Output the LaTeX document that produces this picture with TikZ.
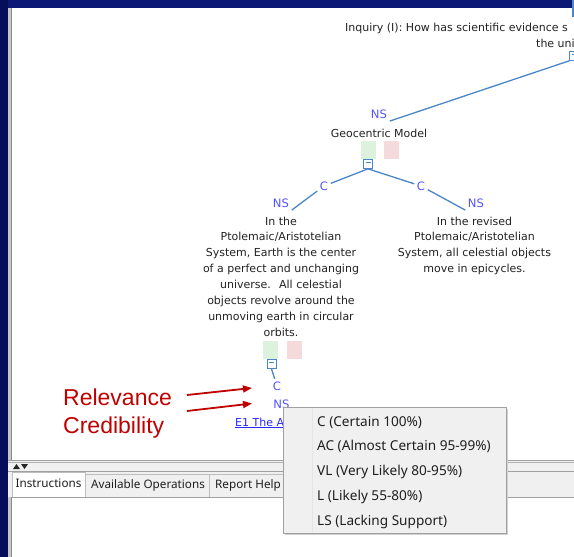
\documentclass[tikz,border=0pt]{standalone}
\usepackage{fontspec}
\setmainfont{DejaVu Sans}
\newfontfamily\treefont{DejaVu Sans}
\newfontfamily\annfont{Liberation Sans}
\newfontfamily\uifont{Noto Sans}
\usetikzlibrary{arrows.meta}
\definecolor{navy}{RGB}{12,24,118}
\definecolor{navydark}{RGB}{6,14,90}
\definecolor{treeline}{RGB}{74,134,200}
\definecolor{lblblue}{RGB}{85,85,255}
\definecolor{linkblue}{RGB}{40,40,255}
\definecolor{greenbox}{RGB}{220,242,220}
\definecolor{redbox}{RGB}{244,218,218}
\definecolor{annred}{RGB}{192,0,0}
\definecolor{uigrey}{RGB}{240,240,240}
\definecolor{bordergrey}{RGB}{160,160,160}
\definecolor{txt}{RGB}{35,35,35}
\tikzset{
  treetxt/.style={font=\treefont\fontsize{11}{15.9}\selectfont, text=txt, inner sep=0pt, align=center},
  lbl/.style={font=\treefont\fontsize{11.6}{13}\selectfont, text=lblblue, inner sep=2.5pt},
  conn/.style={draw=treeline, line width=1.3pt},
  minusbox/.style={draw=treeline, fill=white, minimum size=9pt, inner sep=0pt, line width=0.7pt,
    path picture={\draw[treeline, line width=0.7pt] ([xshift=-2.5pt,yshift=1.5pt]path picture bounding box.center) -- ([xshift=2.5pt,yshift=1.5pt]path picture bounding box.center);}},
  swg/.style={fill=greenbox, minimum width=15pt, minimum height=18pt, inner sep=0pt},
  swr/.style={fill=redbox, minimum width=15pt, minimum height=18pt, inner sep=0pt},
  ann/.style={font=\annfont\fontsize{23}{26}\selectfont, text=annred, inner sep=0pt, anchor=base west},
  annarrow/.style={draw=annred, line width=1.8pt, -{Triangle[length=9pt,width=7pt]}},
  menuitem/.style={font=\uifont\fontsize{13.6}{15}\selectfont, text=black!88, inner sep=0pt, anchor=base west},
  tabtxt/.style={font=\uifont\fontsize{11.7}{14}\selectfont, text=black!88, inner sep=0pt, anchor=base},
  tabbox/.style={draw=bordergrey!70, line width=0.6pt}
}
\begin{document}
\begin{tikzpicture}[x=1pt,y=-1pt]
\useasboundingbox (0,0) rectangle (574,557);
\clip (0,0) rectangle (574,557);
% background
\fill[navy] (0,0) rectangle (574,557);
\fill[navydark] (0,0) rectangle (8,557);
% top panel
\fill[white] (12,8) rectangle (574,460);
\fill[black!22] (8,8) rectangle (11,460);
\draw[black!45, line width=0.6pt] (11.3,8) -- (11.3,460);
\draw[bordergrey, line width=0.8pt] (8,460) -- (574,460);
% splitter
\fill[uigrey] (8,460.5) rectangle (574,471);
\draw[black!30, line width=0.5pt] (8,462.5) -- (574,462.5);
\fill[black!85] (13,469) -- (16.5,464) -- (20,469) -- cycle;
\fill[black!85] (21,464) -- (28,464) -- (24.5,469) -- cycle;
% tab strip
\fill[uigrey] (8,471) rectangle (574,497);
\draw[bordergrey, line width=0.8pt] (8,471) -- (574,471);
\fill[white] (12,472) rectangle (85,497);
\draw[tabbox] (12,497) -- (12,472) -- (85,472) -- (85,497);
\draw[tabbox] (85,474) rectangle (209,497);
\draw[tabbox] (209,474) rectangle (300,497);
\node[tabtxt] (tabI) at (48.5,487) {Instructions};
\node[tabtxt] (tabA) at (148,488) {Available Operations};
\node[tabtxt, anchor=base west] (tabR) at (215,488) {Report Help};
% bottom panel
\fill[white] (11,497) rectangle (574,557);
\draw[bordergrey, line width=0.8pt] (8,497) -- (574,497);
\fill[black!22] (8,497) rectangle (10.5,557);
\draw[black!45, line width=0.6pt] (10.8,497) -- (10.8,557);

% ---------------- tree ----------------
\node[treetxt, anchor=west] (inq1) at (345,28) {Inquiry (I): How has scientific evidence s};
\node[treetxt, anchor=west] (inq2) at (536,43.5) {the uni};
\coordinate (inqtop) at (573,17);
\coordinate (inqparent) at (573,0);
\draw[conn] (inqparent) -- (inqtop);
\node[minusbox] (mb0) at (574,56) {};

\node[lbl] (nsTop) at (379,114) {NS};
\node[treetxt] (geo) at (379,133) {Geocentric Model};
\node[swg] (g1) at (368,150) {};
\node[swr] (r1) at (391.5,150) {};
\node[minusbox] (mb1) at (368,164) {};
\draw[conn] (mb0.south west) -- (nsTop.south east);

\node[lbl] (cL) at (324,186) {C};
\node[lbl] (nsL) at (281,203) {NS};
\node[lbl] (cR) at (421,186) {C};
\node[lbl] (nsR) at (476,203) {NS};
\draw[conn] (mb1.south) -- (cL);
\draw[conn] (cL) -- (nsL.south east);
\draw[conn] (mb1.south) -- (cR);
\draw[conn] (cR) -- (nsR.south west);

\node[treetxt, anchor=north] (txtL) at (281,216.5) {In the\\Ptolemaic/Aristotelian\\System, Earth is the center\\of a perfect and unchanging\\universe.~ All celestial\\objects revolve around the\\unmoving earth in circular\\orbits.};
\node[treetxt, anchor=north] (txtR) at (474.5,216.5) {In the revised\\Ptolemaic/Aristotelian\\System, all celestial objects\\move in epicycles.};

\node[swg] (g2) at (270.5,350) {};
\node[swr] (r2) at (294.5,350) {};
\node[minusbox] (mb2) at (271.5,364) {};
\node[lbl] (c2) at (277,386) {C};
\node[lbl] (ns2) at (281.5,404) {NS};
\draw[conn] (mb2.south) -- (c2);
\node[font=\treefont\fontsize{11}{13}\selectfont, text=linkblue, inner sep=0pt, anchor=base west] (e1) at (235,426) {\underline{E1 The A}};

% ---------------- annotations ----------------
\node[ann] (rel) at (63,405) {Relevance};
\node[ann] (cred) at (63,433.5) {Credibility};
\coordinate (relS) at (187,395);
\coordinate (relT) at (252,388);
\coordinate (credS) at (187,411);
\coordinate (credT) at (252,403.5);
\draw[annarrow] (relS) -- (relT);
\draw[annarrow] (credS) -- (credT);

% ---------------- popup menu ----------------
\fill[black!18] (285,409) rectangle (508,535);
\fill[uigrey] (283,407) rectangle (506,533);
\draw[black!10, line width=0.6pt] (312,408) -- (312,532);
\draw[bordergrey, line width=0.8pt] (283,407) rectangle (506,533);
\node[menuitem] (m1) at (317,426) {C (Certain 100\%)};
\node[menuitem] (m2) at (317,450.5) {AC (Almost Certain 95-99\%)};
\node[menuitem] (m3) at (317,475.5) {VL (Very Likely 80-95\%)};
\node[menuitem] (m4) at (317,500.5) {L (Likely 55-80\%)};
\node[menuitem] (m5) at (317,525.5) {LS (Lacking Support)};
\end{tikzpicture}
\end{document}
